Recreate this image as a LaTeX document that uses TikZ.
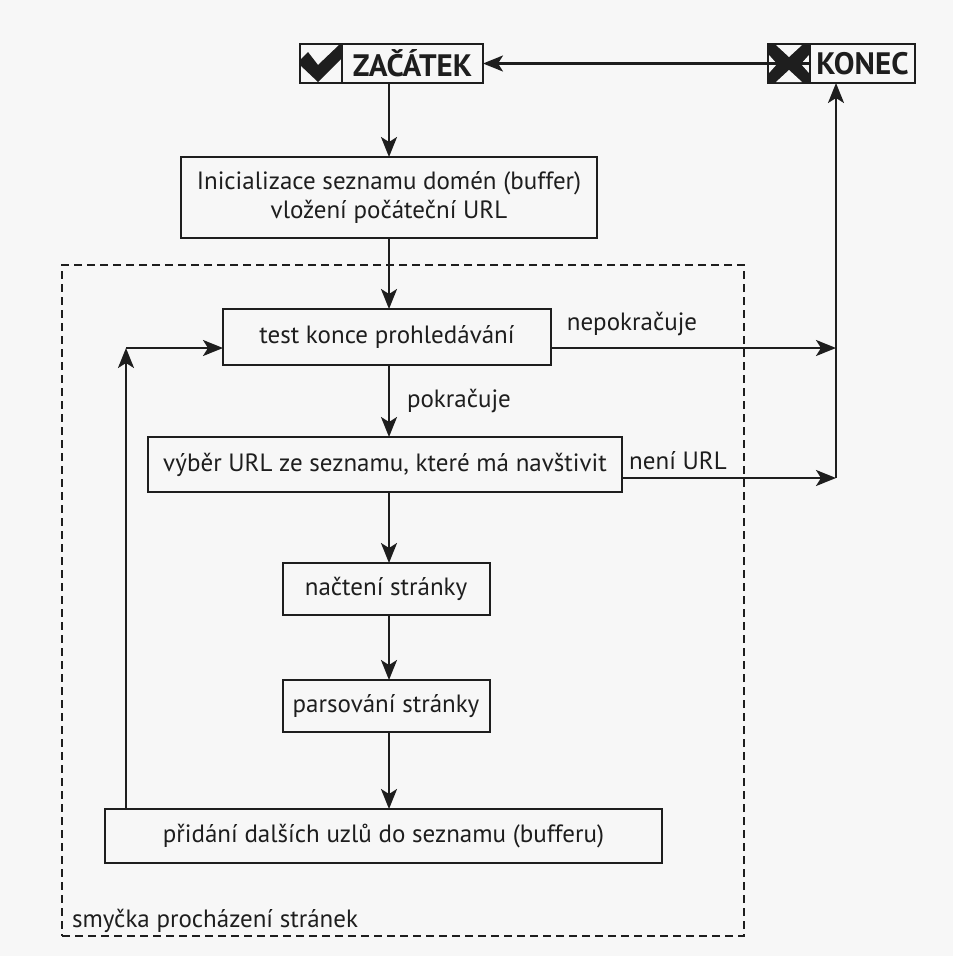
\documentclass[tikz,border=0pt]{standalone}
\usepackage{fontspec}
\setmainfont{PT Sans}
\usetikzlibrary{arrows.meta}
\definecolor{ink}{RGB}{30,30,30}
\definecolor{paper}{RGB}{247,247,247}
\begin{document}
\begin{tikzpicture}[x=1pt,y=-1pt,
  every node/.style={text=ink, inner sep=0pt, outer sep=0pt},
  box/.style={draw=ink, line width=2pt, align=center, font=\fontsize{25}{29}\selectfont},
  termbox/.style={draw=ink, line width=2pt, minimum height=39pt, font=\fontsize{31}{34}\selectfont\bfseries},
  lbl/.style={font=\fontsize{25}{29}\selectfont},
  arr/.style={draw=ink, line width=2.2pt, -{Stealth[length=20pt,width=16pt,inset=5pt]}},
  frame/.style={draw=ink, line width=2pt, dash pattern=on 8pt off 5pt}]

% background and page size
\fill[paper] (0,0) rectangle (953,956);
\useasboundingbox (0,0) rectangle (953,956);

% loop frame
\node[frame, minimum width=682pt, minimum height=671pt] (loop) at (403,600.5) {};
\node[lbl, anchor=base west] (looplbl) at (72,927) {smyčka procházení stránek};

% start terminal with check mark
\fill[ink] (300,60) -- (308,52) -- (318,65) -- (339,45) -- (342,45) -- (342,58) -- (318,82) -- (300,65) -- cycle;
\node[termbox, minimum width=42pt] (chk) at (321,63.5) {};
\node[termbox, minimum width=141pt] (start) at (412.5,63.5) {ZAČÁTEK};

% end terminal with cross mark
\node[termbox, minimum width=42pt, fill=ink] (cross) at (789,63.5) {};
\fill[paper] (776,45) -- (802,45) -- (789,57) -- cycle;
\fill[paper] (776,82) -- (802,82) -- (789,70) -- cycle;
\fill[paper] (769,55) -- (769,73) -- (777,64) -- cycle;
\fill[paper] (809,55) -- (809,73) -- (801,64) -- cycle;
\node[termbox, minimum width=105pt] (end) at (862.5,63.5) {KONEC};

% process boxes
\node[box, minimum width=416pt, minimum height=81pt] (init) at (389,197.5)
  {Inicializace seznamu domén (buffer)\\vložení počáteční URL};
\node[box, minimum width=328pt, minimum height=56pt] (test) at (387,337) {test konce prohledávání};
\node[box, minimum width=474pt, minimum height=55pt] (vyber) at (385,464.5) {výběr URL ze seznamu, které má navštivit};
\node[box, minimum width=207pt, minimum height=52pt] (nacteni) at (386,589) {načtení stránky};
\node[box, minimum width=207pt, minimum height=52pt] (pars) at (386,706) {parsování stránky};
\node[box, minimum width=557pt, minimum height=54pt] (prid) at (383.5,836) {přidání dalších uzlů do seznamu (bufferu)};

% helper points
\coordinate (col) at (389,0);
\coordinate (j1) at (836,348);
\coordinate (j2) at (836,478);
\coordinate (lp) at (126,348);

% main column
\draw[arr] (start.south -| col) -- (init.north -| col);
\draw[arr] (init.south -| col) -- (test.north -| col);
\draw[arr] (test.south -| col) -- (vyber.north -| col)
  node[lbl, pos=0.5, anchor=west, xshift=18pt] (pokr) {pokračuje};
\draw[arr] (vyber.south -| col) -- (nacteni.north -| col);
\draw[arr] (nacteni.south -| col) -- (pars.north -| col);
\draw[arr] (pars.south -| col) -- (prid.north -| col);

% loop back
\draw[arr] (prid.north -| lp) -- (lp);
\draw[arr] (lp) -- (test.west |- lp);

% exits to the end terminal
\draw[arr] (test.east |- j1) -- (j1);
\node[lbl] (nepokr) at (632,324) {nepokračuje};
\draw[arr] (vyber.east |- j2) -- (j2);
\node[lbl] (neniurl) at (678,461) {není URL};
\draw[arr] (j2) -- (end.south -| j2);
\draw[arr] (end.west) -- (start.east);
\end{tikzpicture}
\end{document}
